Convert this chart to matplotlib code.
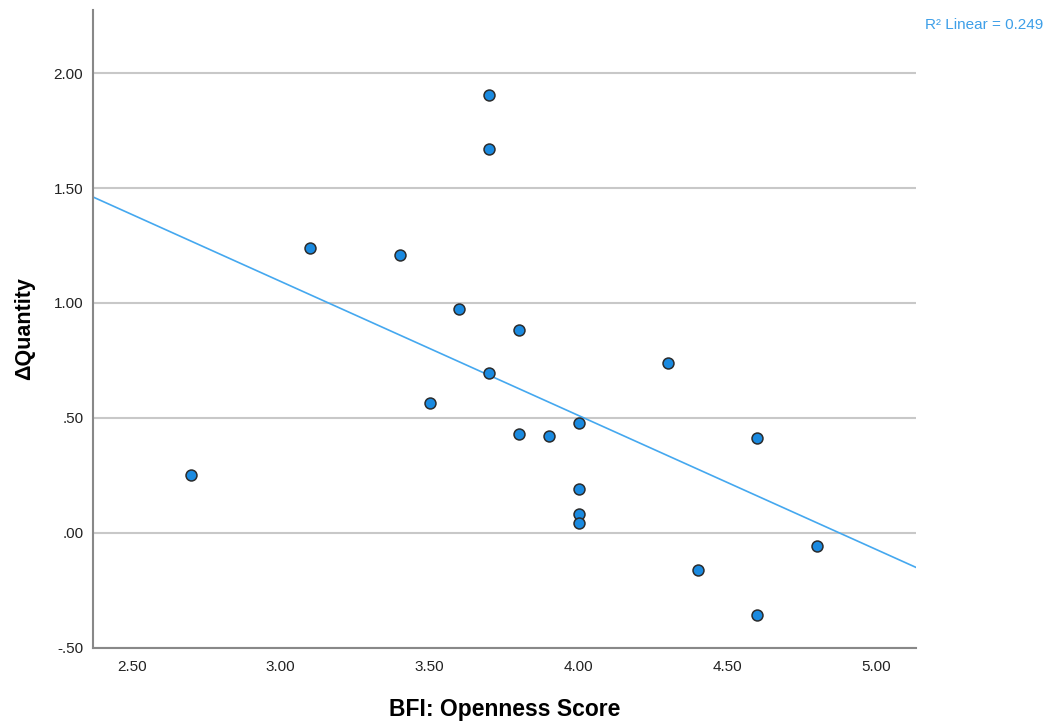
import numpy as np
import matplotlib.pyplot as plt

# data
openness = [2.7, 3.1, 3.4, 3.5, 3.6, 3.7, 3.7, 3.7, 3.8, 3.8,
            3.9, 4.0, 4.0, 4.0, 4.0, 4.3, 4.4, 4.6, 4.6, 4.8]
d_quantity = [0.253, 1.237, 1.207, 0.565, 0.973, 1.903, 1.670, 0.694, 0.881, 0.431,
              0.420, 0.476, 0.192, 0.083, 0.041, 0.739, -0.162, 0.411, -0.360, -0.058]
xticks = [2.5, 3.0, 3.5, 4.0, 4.5, 5.0]
xticklabels = ["2.50", "3.00", "3.50", "4.00", "4.50", "5.00"]
yticks = [-0.5, 0.0, 0.5, 1.0, 1.5, 2.0]
yticklabels = ["-.50", ".00", ".50", "1.00", "1.50", "2.00"]
r2_label = "R² Linear = 0.249"

plt.rcParams["font.family"] = ["Liberation Sans", "DejaVu Sans"]

fig = plt.figure(figsize=(10.47, 7.26), dpi=100)
ax = fig.add_axes([0.0888, 0.108, 0.786, 0.878])

xlim = (2.37, 5.132)
ylim = (-0.5, 2.274)

# fit line
slope, intercept = np.polyfit(openness, d_quantity, 1)
xs = np.array(xlim)
ax.plot(xs, slope * xs + intercept, color="#45a8ef", lw=1.2, zorder=2)

ax.scatter(openness, d_quantity, s=62, c="#1a8ae0", edgecolors="#2b2b2b",
           linewidths=1.1, zorder=3)

ax.set_xlim(xlim)
ax.set_ylim(ylim)
ax.set_xticks(xticks)
ax.set_xticklabels(xticklabels)
ax.set_yticks(yticks)
ax.set_yticklabels(yticklabels)
ax.tick_params(length=0, labelsize=11, colors="#222222")
ax.tick_params(axis="x", pad=9)
ax.tick_params(axis="y", pad=7)

ax.yaxis.grid(True, color="#c8c8c8", lw=1.5)
ax.set_axisbelow(True)
for s in ["top", "right"]:
    ax.spines[s].set_visible(False)
for s in ["left", "bottom"]:
    ax.spines[s].set_color("#888888")
    ax.spines[s].set_linewidth(1.5)

ax.set_xlabel("BFI: Openness Score", fontsize=16.5, fontweight="bold", labelpad=17)
ax.set_ylabel("ΔQuantity", fontsize=15.5, fontweight="bold", labelpad=13)

fig.text(0.996, 0.966, r2_label, ha="right", va="center", fontsize=11,
         color="#3d9fe8")

fig.savefig("out.png", dpi=100)
